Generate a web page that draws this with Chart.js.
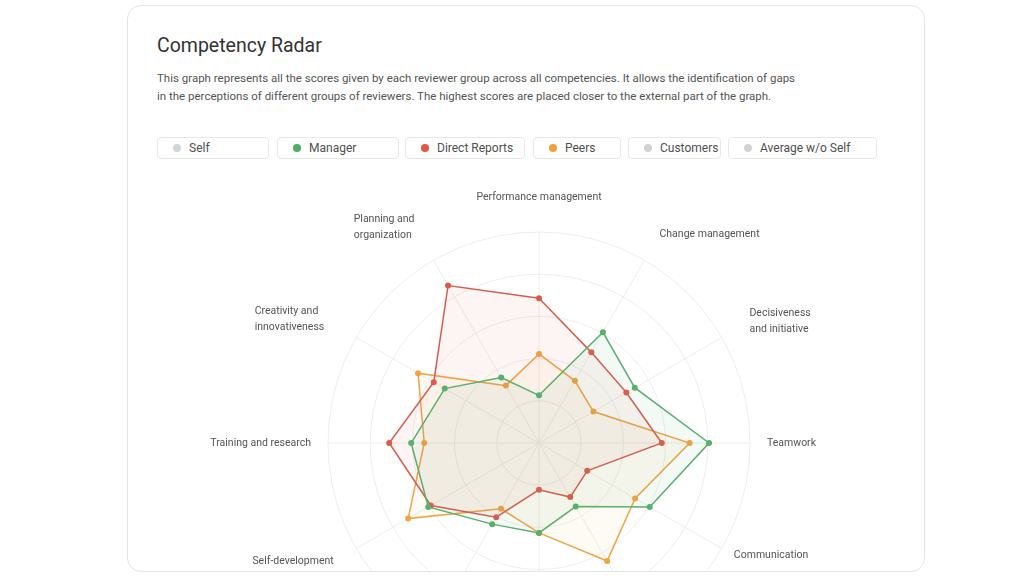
<!DOCTYPE html>
<html>
<head>
<meta charset="utf-8">
<title>Competency Radar</title>
<script src="https://cdn.jsdelivr.net/npm/chart.js@4.4.0/dist/chart.umd.min.js"></script>
<style>
  html, body { margin: 0; padding: 0; background: #fff; overflow: hidden; }
  body { width: 1024px; height: 576px; font-family: Roboto, "Noto Sans", sans-serif; }
  .card {
    position: absolute; left: 127px; top: 5px; width: 796px; height: 565px;
    border: 1px solid #e4e4e4; border-radius: 14px; overflow: hidden; background: #fff;
  }
  .card h2 {
    position: absolute; left: 29px; top: 30px; margin: 0;
    font-size: 19.5px; line-height: 20px; font-weight: 400; color: #333;
  }
  .card p {
    position: absolute; left: 29px; top: 63px; margin: 0;
    font-size: 11.5px; line-height: 18px; color: #555;
  }
  .legend { position: absolute; left: 29px; top: 131px; height: 22px; }
  .legend-item {
    position: absolute; top: 0; height: 20px; box-sizing: content-box;
    border: 1px solid #e8e8e8; border-radius: 4px;
    font-size: 12px; line-height: 20px; color: #505050;
  }
  .legend-item .dot {
    position: absolute; left: 15px; top: 6px; width: 8px; height: 8px; border-radius: 50%;
  }
  .legend-item span.txt { position: absolute; left: 31px; top: 0; white-space: nowrap; }
  .chart-box { position: absolute; left: 31px; top: 177px; width: 760px; height: 520px; }
</style>
</head>
<body>
<div class="card">
  <h2>Competency Radar</h2>
  <p>This graph represents all the scores given by each reviewer group across all competencies. It allows the identification of gaps<br>in the perceptions of different groups of reviewers. The highest scores are placed closer to the external part of the graph.</p>
  <div class="legend" id="legend"></div>
  <div class="chart-box"><canvas id="radarChart"></canvas></div>
</div>

<script>
// Competencies, clockwise from the top
const competencies = [
    'Performance management',
    'Change management',
    ['Decisiveness', 'and initiative'],
    'Teamwork',
    'Communication',
    'Customer focus',
    'Leadership',
    'Problem solving',
    'Self-development',
    'Training and research',
    ['Creativity and', 'innovativeness'],
    ['Planning and', 'organization']
];

// Scores per reviewer group (scale 0-5)
const managerScores = [1.13, 3.03, 2.62, 4.03, 3.03, 1.74, 2.13, 2.22, 3.03, 3.03, 2.58, 1.79];
const directReportsScores = [3.43, 2.48, 2.39, 2.91, 1.32, 1.48, 1.11, 2.03, 2.96, 3.55, 2.88, 4.31];
const peersScores = [2.11, 1.70, 1.49, 3.57, 2.63, 3.23, 2.13, 1.80, 3.58, 2.72, 3.31, 1.57];

// Reviewer groups shown in the legend (inactive ones are grey)
const reviewerGroups = ['Self', 'Manager', 'Direct Reports', 'Peers', 'Customers', 'Average w/o Self'];
const scaleTicks = [0, 1, 2, 3, 4, 5];

// Styles
const groupColors = ['#d1d4d7', '#4fae66', '#df5844', '#f0a03f', '#d1d4d7', '#d1d4d7'];
const legendLefts = [0, 120, 248, 376, 471, 571];
const legendWidths = [110, 120, 118, 86, 91, 147];
const labelPadding = [35, 30, 32, 17, 14, 14, 35, 14, 26, 17, 37, 38];
const labelFont = '10.5px Roboto';
const labelLineHeight = 16;

// Legend
const legend = document.getElementById('legend');
reviewerGroups.forEach((name, i) => {
    const item = document.createElement('div');
    item.className = 'legend-item';
    item.style.left = legendLefts[i] + 'px';
    item.style.width = legendWidths[i] + 'px';
    item.innerHTML = `<span class="dot" style="background:${groupColors[i]}"></span><span class="txt">${name}</span>`;
    legend.appendChild(item);
});

// Competency names: left aligned lines, vertically centred on the axis end
const competencyLabels = {
    id: 'competencyLabels',
    afterDraw(chart) {
        const scale = chart.scales.r;
        const ctx = chart.ctx;
        ctx.save();
        ctx.font = labelFont;
        ctx.fillStyle = '#555';
        ctx.textAlign = 'left';
        ctx.textBaseline = 'middle';
        competencies.forEach((label, i) => {
            const lines = [].concat(label);
            const pos = scale.getPointPosition(i, scale.drawingArea + labelPadding[i]);
            const angle = i * 360 / competencies.length;
            const w = Math.max(...lines.map(l => ctx.measureText(l).width));
            let x = pos.x;
            if (angle === 0 || angle === 180) x -= w / 2;
            else if (angle > 180) x -= w;
            const y = pos.y - (lines.length - 1) * labelLineHeight / 2;
            lines.forEach((l, k) => ctx.fillText(l, x, y + k * labelLineHeight));
        });
        ctx.restore();
    }
};

const dataset = (label, data, color, fill) => ({
    label: label,
    data: data,
    borderColor: color,
    backgroundColor: fill,
    pointBackgroundColor: color,
    pointBorderColor: color,
    pointRadius: 3,
    pointBorderWidth: 0,
    borderWidth: 1.5,
    fill: true,
    tension: 0
});

Chart.defaults.font.family = 'Roboto';

new Chart(document.getElementById('radarChart'), {
    type: 'radar',
    data: {
        labels: competencies,
        datasets: [
            dataset('Manager', managerScores, '#5aaf6d', 'rgba(90,175,109,0.07)'),
            dataset('Direct Reports', directReportsScores, '#dc5c4b', 'rgba(220,92,75,0.06)'),
            dataset('Peers', peersScores, '#f0a444', 'rgba(240,164,68,0.06)')
        ]
    },
    plugins: [competencyLabels],
    options: {
        responsive: true,
        maintainAspectRatio: false,
        animation: false,
        layout: { padding: { left: 169, right: 169, top: 49, bottom: 49 } },
        plugins: {
            legend: { display: false },
            tooltip: { enabled: false }
        },
        scales: {
            r: {
                min: scaleTicks[0],
                max: scaleTicks[scaleTicks.length - 1],
                ticks: { display: false, stepSize: 1 },
                grid: { color: '#ededed', circular: true },
                angleLines: { color: '#ededed' },
                pointLabels: { display: false }
            }
        }
    }
});
</script>
</body>
</html>
